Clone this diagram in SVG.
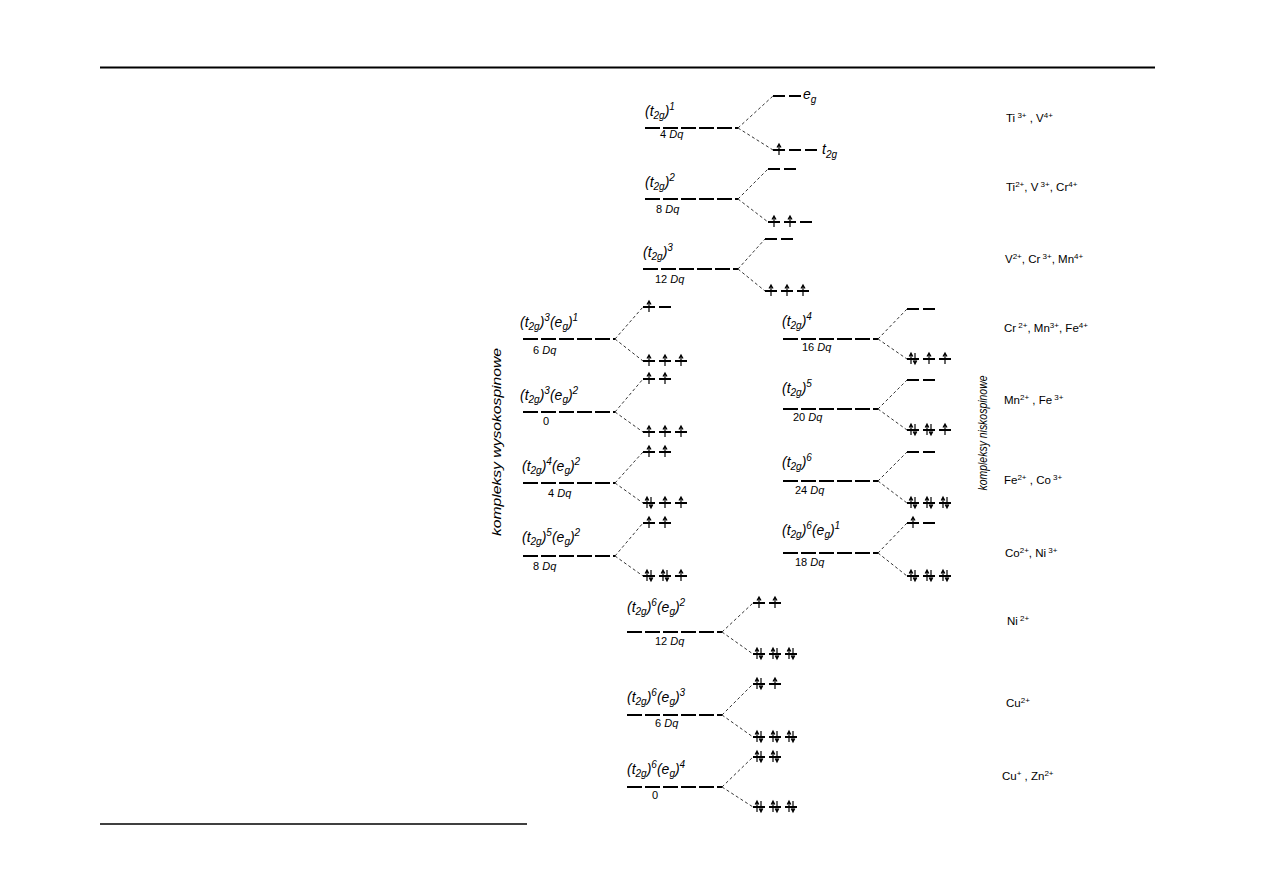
<svg xmlns="http://www.w3.org/2000/svg" xmlns:xlink="http://www.w3.org/1999/xlink" width="1263" height="893" viewBox="0 0 1263 893">
<style>
.lvl{stroke:#000;stroke-width:2;fill:none}
.base{stroke:#000;stroke-width:2;stroke-dasharray:15 3;fill:none}
.br{stroke:#000;stroke-width:0.8;stroke-dasharray:3 2.5;fill:none}
.el{stroke:#000;stroke-width:1.2;fill:none}
text{font-family:"Liberation Sans",Arial,sans-serif;fill:#000}
.lab{font-style:italic;font-size:14px}
.dq{font-size:11px}
.ion{font-size:11.5px}
.rot{font-style:italic;font-size:12px}
</style>
<defs>
<path id="s" d="M0,0h12"/>
<g id="e2"><use xlink:href="#s" x="0"/><use xlink:href="#s" x="16"/></g>
<g id="t3"><use xlink:href="#s" x="0"/><use xlink:href="#s" x="16"/><use xlink:href="#s" x="32"/></g>
<path id="u" d="M0,5V-6M-2,-2.5L0,-6L2,-2.5"/>
<path id="p" d="M-2,5V-6M-3.8,-2.5L-2,-6L-0.2,-2.5M2,-6V5M0.2,1.5L2,5L3.8,1.5"/>
</defs>
<rect width="1263" height="893" fill="#fff"/>
<g id="frame">
<line x1="100" y1="67.5" x2="1155" y2="67.5" stroke="#000" stroke-width="2.2"/>
<line x1="100" y1="824" x2="527" y2="824" stroke="#000" stroke-width="1.3"/>
</g>

<g id="connectors" class="br">
<path d="M738,128L773,96M738,128L773,150"/>
<path d="M738,199L768,169M738,199L768,222"/>
<path d="M738,269L765,239M738,269L765,291"/>
<path d="M615,339L643,307M615,339L643,361"/>
<path d="M615,412L643,379M615,412L643,432"/>
<path d="M615,483L643,452M615,483L643,503"/>
<path d="M615,556L643,523M615,556L643,576"/>
<path d="M878,339L907,309M878,339L907,359"/>
<path d="M878,409L907,380M878,409L907,430"/>
<path d="M878,481L907,452M878,481L907,503"/>
<path d="M878,553L907,523M878,553L907,576"/>
<path d="M722,632L753,603M722,632L753,654"/>
<path d="M722,715L753,684M722,715L753,737"/>
<path d="M722,787L753,757M722,787L753,807"/>
</g>

<g id="n-t2g1">
<path class="base" d="M645,128H738"/>
<g class="lvl"><use xlink:href="#e2" x="773" y="96"/><use xlink:href="#t3" x="773" y="150"/></g>
<g class="el"><use xlink:href="#u" x="779" y="150"/></g>
<text class="lab" x="645" y="116">(t<tspan dy="3" font-size="10">2g</tspan><tspan dy="-3">)</tspan><tspan dy="-6" font-size="10">1</tspan></text>
<text class="dq" x="660" y="138">4 <tspan font-style="italic">Dq</tspan></text>
<text class="lab" x="803" y="99">e<tspan dy="4" font-size="10">g</tspan></text>
<text class="lab" x="822" y="154">t<tspan dy="4" font-size="10">2g</tspan></text>
</g>

<g id="n-t2g2">
<path class="base" d="M645,199H738"/>
<g class="lvl"><use xlink:href="#e2" x="768" y="169"/><use xlink:href="#t3" x="768" y="222"/></g>
<g class="el"><use xlink:href="#u" x="774" y="222"/><use xlink:href="#u" x="790" y="222"/></g>
<text class="lab" x="645" y="187">(t<tspan dy="3" font-size="10">2g</tspan><tspan dy="-3">)</tspan><tspan dy="-6" font-size="10">2</tspan></text>
<text class="dq" x="656" y="213">8 <tspan font-style="italic">Dq</tspan></text>
</g>

<g id="n-t2g3">
<path class="base" d="M643,269H738"/>
<g class="lvl"><use xlink:href="#e2" x="765" y="239"/><use xlink:href="#t3" x="765" y="291"/></g>
<g class="el"><use xlink:href="#u" x="771" y="291"/><use xlink:href="#u" x="787" y="291"/><use xlink:href="#u" x="803" y="291"/></g>
<text class="lab" x="643" y="257">(t<tspan dy="3" font-size="10">2g</tspan><tspan dy="-3">)</tspan><tspan dy="-6" font-size="10">3</tspan></text>
<text class="dq" x="655" y="283">12 <tspan font-style="italic">Dq</tspan></text>
</g>

<g id="n-hs-d4">
<path class="base" d="M523,339H615"/>
<g class="lvl"><use xlink:href="#e2" x="643" y="307"/><use xlink:href="#t3" x="643" y="361"/></g>
<g class="el"><use xlink:href="#u" x="649" y="307"/><use xlink:href="#u" x="649" y="361"/><use xlink:href="#u" x="665" y="361"/><use xlink:href="#u" x="681" y="361"/></g>
<text class="lab" x="520" y="327">(t<tspan dy="3" font-size="10">2g</tspan><tspan dy="-3">)</tspan><tspan dy="-6" font-size="10">3</tspan><tspan dy="6">(e</tspan><tspan dy="3" font-size="10">g</tspan><tspan dy="-3">)</tspan><tspan dy="-6" font-size="10">1</tspan></text>
<text class="dq" x="533" y="354">6 <tspan font-style="italic">Dq</tspan></text>
</g>

<g id="n-hs-d5">
<path class="base" d="M523,412H615"/>
<g class="lvl"><use xlink:href="#e2" x="643" y="379"/><use xlink:href="#t3" x="643" y="432"/></g>
<g class="el"><use xlink:href="#u" x="649" y="379"/><use xlink:href="#u" x="665" y="379"/><use xlink:href="#u" x="649" y="432"/><use xlink:href="#u" x="665" y="432"/><use xlink:href="#u" x="681" y="432"/></g>
<text class="lab" x="520" y="400">(t<tspan dy="3" font-size="10">2g</tspan><tspan dy="-3">)</tspan><tspan dy="-6" font-size="10">3</tspan><tspan dy="6">(e</tspan><tspan dy="3" font-size="10">g</tspan><tspan dy="-3">)</tspan><tspan dy="-6" font-size="10">2</tspan></text>
<text class="dq" x="543" y="425">0</text>
</g>

<g id="n-hs-d6">
<path class="base" d="M523,483H615"/>
<g class="lvl"><use xlink:href="#e2" x="643" y="452"/><use xlink:href="#t3" x="643" y="503"/></g>
<g class="el"><use xlink:href="#u" x="649" y="452"/><use xlink:href="#u" x="665" y="452"/><use xlink:href="#p" x="649" y="503"/><use xlink:href="#u" x="665" y="503"/><use xlink:href="#u" x="681" y="503"/></g>
<text class="lab" x="522" y="471">(t<tspan dy="3" font-size="10">2g</tspan><tspan dy="-3">)</tspan><tspan dy="-6" font-size="10">4</tspan><tspan dy="6">(e</tspan><tspan dy="3" font-size="10">g</tspan><tspan dy="-3">)</tspan><tspan dy="-6" font-size="10">2</tspan></text>
<text class="dq" x="548" y="497">4 <tspan font-style="italic">Dq</tspan></text>
</g>

<g id="n-hs-d7">
<path class="base" d="M523,556H615"/>
<g class="lvl"><use xlink:href="#e2" x="643" y="523"/><use xlink:href="#t3" x="643" y="576"/></g>
<g class="el"><use xlink:href="#u" x="649" y="523"/><use xlink:href="#u" x="665" y="523"/><use xlink:href="#p" x="649" y="576"/><use xlink:href="#p" x="665" y="576"/><use xlink:href="#u" x="681" y="576"/></g>
<text class="lab" x="522" y="542">(t<tspan dy="3" font-size="10">2g</tspan><tspan dy="-3">)</tspan><tspan dy="-6" font-size="10">5</tspan><tspan dy="6">(e</tspan><tspan dy="3" font-size="10">g</tspan><tspan dy="-3">)</tspan><tspan dy="-6" font-size="10">2</tspan></text>
<text class="dq" x="533" y="570">8 <tspan font-style="italic">Dq</tspan></text>
</g>

<g id="n-ls-d4">
<path class="base" d="M783,339H878"/>
<g class="lvl"><use xlink:href="#e2" x="907" y="309"/><use xlink:href="#t3" x="907" y="359"/></g>
<g class="el"><use xlink:href="#p" x="913" y="359"/><use xlink:href="#u" x="929" y="359"/><use xlink:href="#u" x="945" y="359"/></g>
<text class="lab" x="782" y="326">(t<tspan dy="3" font-size="10">2g</tspan><tspan dy="-3">)</tspan><tspan dy="-6" font-size="10">4</tspan></text>
<text class="dq" x="802" y="351">16 <tspan font-style="italic">Dq</tspan></text>
</g>

<g id="n-ls-d5">
<path class="base" d="M783,409H878"/>
<g class="lvl"><use xlink:href="#e2" x="907" y="380"/><use xlink:href="#t3" x="907" y="430"/></g>
<g class="el"><use xlink:href="#p" x="913" y="430"/><use xlink:href="#p" x="929" y="430"/><use xlink:href="#u" x="945" y="430"/></g>
<text class="lab" x="782" y="393">(t<tspan dy="3" font-size="10">2g</tspan><tspan dy="-3">)</tspan><tspan dy="-6" font-size="10">5</tspan></text>
<text class="dq" x="793" y="421">20 <tspan font-style="italic">Dq</tspan></text>
</g>

<g id="n-ls-d6">
<path class="base" d="M783,481H878"/>
<g class="lvl"><use xlink:href="#e2" x="907" y="452"/><use xlink:href="#t3" x="907" y="503"/></g>
<g class="el"><use xlink:href="#p" x="913" y="503"/><use xlink:href="#p" x="929" y="503"/><use xlink:href="#p" x="945" y="503"/></g>
<text class="lab" x="782" y="467">(t<tspan dy="3" font-size="10">2g</tspan><tspan dy="-3">)</tspan><tspan dy="-6" font-size="10">6</tspan></text>
<text class="dq" x="795" y="494">24 <tspan font-style="italic">Dq</tspan></text>
</g>

<g id="n-ls-d7">
<path class="base" d="M783,553H878"/>
<g class="lvl"><use xlink:href="#e2" x="907" y="523"/><use xlink:href="#t3" x="907" y="576"/></g>
<g class="el"><use xlink:href="#u" x="913" y="523"/><use xlink:href="#p" x="913" y="576"/><use xlink:href="#p" x="929" y="576"/><use xlink:href="#p" x="945" y="576"/></g>
<text class="lab" x="782" y="535">(t<tspan dy="3" font-size="10">2g</tspan><tspan dy="-3">)</tspan><tspan dy="-6" font-size="10">6</tspan><tspan dy="6">(e</tspan><tspan dy="3" font-size="10">g</tspan><tspan dy="-3">)</tspan><tspan dy="-6" font-size="10">1</tspan></text>
<text class="dq" x="795" y="566">18 <tspan font-style="italic">Dq</tspan></text>
</g>

<g id="n-d8">
<path class="base" d="M627,632H722"/>
<g class="lvl"><use xlink:href="#e2" x="753" y="603"/><use xlink:href="#t3" x="753" y="654"/></g>
<g class="el"><use xlink:href="#u" x="759" y="603"/><use xlink:href="#u" x="775" y="603"/><use xlink:href="#p" x="759" y="654"/><use xlink:href="#p" x="775" y="654"/><use xlink:href="#p" x="791" y="654"/></g>
<text class="lab" x="627" y="612">(t<tspan dy="3" font-size="10">2g</tspan><tspan dy="-3">)</tspan><tspan dy="-6" font-size="10">6</tspan><tspan dy="6">(e</tspan><tspan dy="3" font-size="10">g</tspan><tspan dy="-3">)</tspan><tspan dy="-6" font-size="10">2</tspan></text>
<text class="dq" x="655" y="645">12 <tspan font-style="italic">Dq</tspan></text>
</g>

<g id="n-d9">
<path class="base" d="M627,715H722"/>
<g class="lvl"><use xlink:href="#e2" x="753" y="684"/><use xlink:href="#t3" x="753" y="737"/></g>
<g class="el"><use xlink:href="#p" x="759" y="684"/><use xlink:href="#u" x="775" y="684"/><use xlink:href="#p" x="759" y="737"/><use xlink:href="#p" x="775" y="737"/><use xlink:href="#p" x="791" y="737"/></g>
<text class="lab" x="627" y="702">(t<tspan dy="3" font-size="10">2g</tspan><tspan dy="-3">)</tspan><tspan dy="-6" font-size="10">6</tspan><tspan dy="6">(e</tspan><tspan dy="3" font-size="10">g</tspan><tspan dy="-3">)</tspan><tspan dy="-6" font-size="10">3</tspan></text>
<text class="dq" x="655" y="727">6 <tspan font-style="italic">Dq</tspan></text>
</g>

<g id="n-d10">
<path class="base" d="M627,787H722"/>
<g class="lvl"><use xlink:href="#e2" x="753" y="757"/><use xlink:href="#t3" x="753" y="807"/></g>
<g class="el"><use xlink:href="#p" x="759" y="757"/><use xlink:href="#p" x="775" y="757"/><use xlink:href="#p" x="759" y="807"/><use xlink:href="#p" x="775" y="807"/><use xlink:href="#p" x="791" y="807"/></g>
<text class="lab" x="627" y="774">(t<tspan dy="3" font-size="10">2g</tspan><tspan dy="-3">)</tspan><tspan dy="-6" font-size="10">6</tspan><tspan dy="6">(e</tspan><tspan dy="3" font-size="10">g</tspan><tspan dy="-3">)</tspan><tspan dy="-6" font-size="10">4</tspan></text>
<text class="dq" x="652" y="799">0</text>
</g>

<g id="side-labels">
<text class="rot" transform="translate(501,442) rotate(-90)" text-anchor="middle" textLength="188" lengthAdjust="spacingAndGlyphs">kompleksy wysokospinowe</text>
<text class="rot" transform="translate(987,433) rotate(-90)" text-anchor="middle" textLength="115" lengthAdjust="spacingAndGlyphs">kompleksy niskospinowe</text>
</g>

<g id="ions">
<text class="ion" x="1006" y="122">Ti<tspan dy="-4" font-size="8"> 3+</tspan><tspan dy="4"> , V</tspan><tspan dy="-4" font-size="8">4+</tspan></text>
<text class="ion" x="1006" y="191">Ti<tspan dy="-4" font-size="8">2+</tspan><tspan dy="4">, V</tspan><tspan dy="-4" font-size="8"> 3+</tspan><tspan dy="4">, Cr</tspan><tspan dy="-4" font-size="8">4+</tspan></text>
<text class="ion" x="1005" y="263">V<tspan dy="-4" font-size="8">2+</tspan><tspan dy="4">, Cr</tspan><tspan dy="-4" font-size="8"> 3+</tspan><tspan dy="4">, Mn</tspan><tspan dy="-4" font-size="8">4+</tspan></text>
<text class="ion" x="1004" y="332">Cr<tspan dy="-4" font-size="8"> 2+</tspan><tspan dy="4">, Mn</tspan><tspan dy="-4" font-size="8">3+</tspan><tspan dy="4">, Fe</tspan><tspan dy="-4" font-size="8">4+</tspan></text>
<text class="ion" x="1004" y="404">Mn<tspan dy="-4" font-size="8">2+</tspan><tspan dy="4"> , Fe</tspan><tspan dy="-4" font-size="8"> 3+</tspan></text>
<text class="ion" x="1004" y="484">Fe<tspan dy="-4" font-size="8">2+</tspan><tspan dy="4"> , Co</tspan><tspan dy="-4" font-size="8"> 3+</tspan></text>
<text class="ion" x="1005" y="557">Co<tspan dy="-4" font-size="8">2+</tspan><tspan dy="4">, Ni</tspan><tspan dy="-4" font-size="8"> 3+</tspan></text>
<text class="ion" x="1007" y="625">Ni<tspan dy="-4" font-size="8"> 2+</tspan></text>
<text class="ion" x="1006" y="707">Cu<tspan dy="-4" font-size="8">2+</tspan></text>
<text class="ion" x="1002" y="780">Cu<tspan dy="-4" font-size="8">+</tspan><tspan dy="4"> , Zn</tspan><tspan dy="-4" font-size="8">2+</tspan></text>
</g>
</svg>
